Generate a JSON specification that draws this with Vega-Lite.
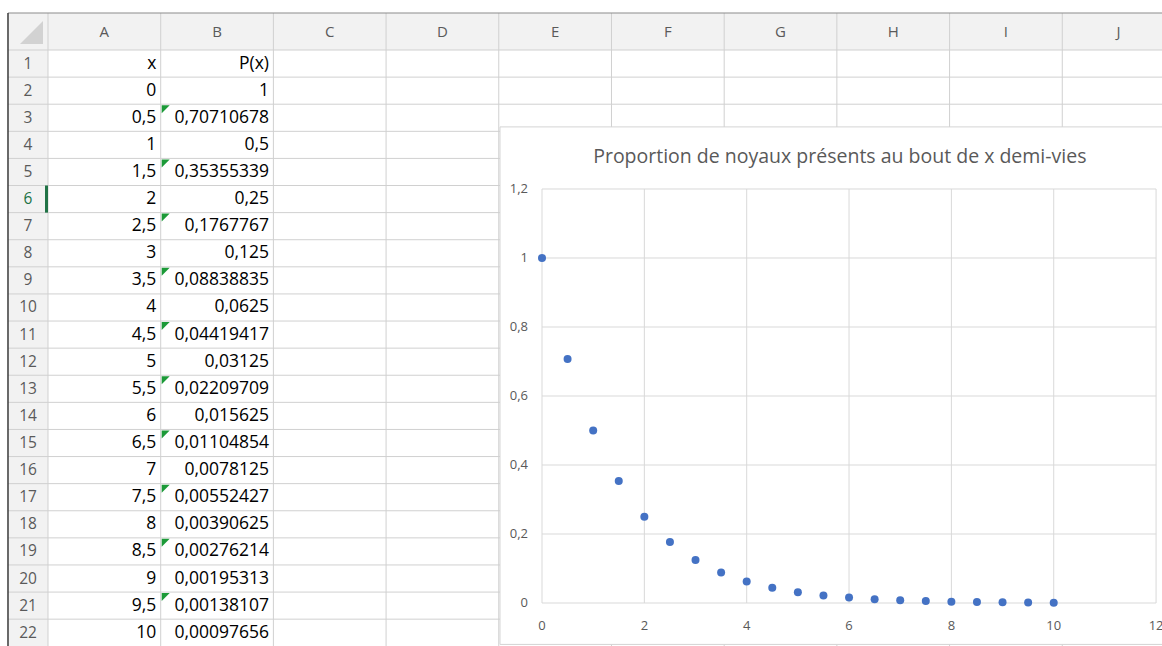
{
  "$schema": "https://vega.github.io/schema/vega-lite/v6.json",
  "width": 1162,
  "height": 646,
  "autosize": {"type": "none"},
  "padding": 0,
  "background": "white",
  "config": {"view": {"stroke": null}, "axis": {"disable": true}},
  "datasets": {
    "cells": [
      {"x": 0, "xs": "0", "p": 1, "ps": "1", "row": 2},
      {"x": 0.5, "xs": "0,5", "p": 0.70710678, "ps": "0,70710678", "row": 3},
      {"x": 1, "xs": "1", "p": 0.5, "ps": "0,5", "row": 4},
      {"x": 1.5, "xs": "1,5", "p": 0.35355339, "ps": "0,35355339", "row": 5},
      {"x": 2, "xs": "2", "p": 0.25, "ps": "0,25", "row": 6},
      {"x": 2.5, "xs": "2,5", "p": 0.1767767, "ps": "0,1767767", "row": 7},
      {"x": 3, "xs": "3", "p": 0.125, "ps": "0,125", "row": 8},
      {"x": 3.5, "xs": "3,5", "p": 0.08838835, "ps": "0,08838835", "row": 9},
      {"x": 4, "xs": "4", "p": 0.0625, "ps": "0,0625", "row": 10},
      {"x": 4.5, "xs": "4,5", "p": 0.04419417, "ps": "0,04419417", "row": 11},
      {"x": 5, "xs": "5", "p": 0.03125, "ps": "0,03125", "row": 12},
      {"x": 5.5, "xs": "5,5", "p": 0.02209709, "ps": "0,02209709", "row": 13},
      {"x": 6, "xs": "6", "p": 0.015625, "ps": "0,015625", "row": 14},
      {"x": 6.5, "xs": "6,5", "p": 0.01104854, "ps": "0,01104854", "row": 15},
      {"x": 7, "xs": "7", "p": 0.0078125, "ps": "0,0078125", "row": 16},
      {"x": 7.5, "xs": "7,5", "p": 0.00552427, "ps": "0,00552427", "row": 17},
      {"x": 8, "xs": "8", "p": 0.00390625, "ps": "0,00390625", "row": 18},
      {"x": 8.5, "xs": "8,5", "p": 0.00276214, "ps": "0,00276214", "row": 19},
      {"x": 9, "xs": "9", "p": 0.00195313, "ps": "0,00195313", "row": 20},
      {"x": 9.5, "xs": "9,5", "p": 0.00138107, "ps": "0,00138107", "row": 21},
      {"x": 10, "xs": "10", "p": 0.00097656, "ps": "0,00097656", "row": 22}
    ],
    "heads": [
      {"col": 1, "t": "x"},
      {"col": 2, "t": "P(x)"}
    ],
    "cols": [
      {"col": 1, "name": "A"}, {"col": 2, "name": "B"}, {"col": 3, "name": "C"},
      {"col": 4, "name": "D"}, {"col": 5, "name": "E"}, {"col": 6, "name": "F"},
      {"col": 7, "name": "G"}, {"col": 8, "name": "H"}, {"col": 9, "name": "I"},
      {"col": 10, "name": "J"}
    ],
    "rows": [
      {"row": 1}, {"row": 2}, {"row": 3}, {"row": 4}, {"row": 5}, {"row": 6},
      {"row": 7}, {"row": 8}, {"row": 9}, {"row": 10}, {"row": 11}, {"row": 12},
      {"row": 13}, {"row": 14}, {"row": 15}, {"row": 16}, {"row": 17}, {"row": 18},
      {"row": 19}, {"row": 20}, {"row": 21}, {"row": 22}
    ],
    "xticks": [
      {"v": 0, "l": "0"}, {"v": 2, "l": "2"}, {"v": 4, "l": "4"}, {"v": 6, "l": "6"},
      {"v": 8, "l": "8"}, {"v": 10, "l": "10"}, {"v": 12, "l": "12"}
    ],
    "yticks": [
      {"v": 0, "l": "0"}, {"v": 0.2, "l": "0,2"}, {"v": 0.4, "l": "0,4"},
      {"v": 0.6, "l": "0,6"}, {"v": 0.8, "l": "0,8"}, {"v": 1, "l": "1"}, {"v": 1.2, "l": "1,2"}
    ],
    "one": [{}]
  },
  "layer": [
    {
      "layer": [
        {
          "data": {"name": "one"},
          "mark": {"type": "rect", "fill": "#f2f2f2"},
          "encoding": {
            "x": {"datum": 0.145, "type": "quantitative", "scale": {"domain": [0.0741, 10.385], "nice": false, "zero": false}},
            "x2": {"datum": 10.385},
            "y": {"datum": -0.865, "type": "quantitative", "scale": {"domain": [-1.345, 22.49], "nice": false, "zero": false, "reverse": true}},
            "y2": {"datum": 0.5}
          }
        },
        {
          "data": {"name": "one"},
          "mark": {"type": "rect", "fill": "#f2f2f2"},
          "encoding": {
            "x": {"datum": 0.145, "type": "quantitative", "scale": {"domain": [0.0741, 10.385], "nice": false, "zero": false}},
            "x2": {"datum": 0.5},
            "y": {"datum": 0.5, "type": "quantitative", "scale": {"domain": [-1.345, 22.49], "nice": false, "zero": false, "reverse": true}},
            "y2": {"datum": 22.49}
          }
        },
        {
          "data": {"name": "cols"},
          "mark": {"type": "rule", "stroke": "#d0d0d0", "strokeWidth": 1, "xOffset": -56.35},
          "encoding": {
            "x": {"field": "col", "type": "quantitative", "scale": {"domain": [0.0741, 10.385], "nice": false, "zero": false}},
            "y": {"datum": -0.865, "type": "quantitative", "scale": {"domain": [-1.345, 22.49], "nice": false, "zero": false, "reverse": true}},
            "y2": {"datum": 22.49}
          }
        },
        {
          "data": {"name": "rows"},
          "mark": {"type": "rule", "stroke": "#d0d0d0", "strokeWidth": 1, "yOffset": -13.55},
          "encoding": {
            "y": {"field": "row", "type": "quantitative", "scale": {"domain": [-1.345, 22.49], "nice": false, "zero": false, "reverse": true}},
            "x": {"datum": 0.145, "type": "quantitative", "scale": {"domain": [0.0741, 10.385], "nice": false, "zero": false}},
            "x2": {"datum": 10.385}
          }
        },
        {
          "data": {"name": "cols"},
          "mark": {"type": "text", "font": "Open Sans", "fontSize": 15, "color": "#5a5a5a", "align": "center", "baseline": "middle"},
          "encoding": {
            "x": {"field": "col", "type": "quantitative", "scale": {"domain": [0.0741, 10.385], "nice": false, "zero": false}},
            "y": {"datum": -0.1825, "type": "quantitative", "scale": {"domain": [-1.345, 22.49], "nice": false, "zero": false, "reverse": true}},
            "text": {"field": "name"}
          }
        },
        {
          "data": {"name": "rows"},
          "mark": {"type": "text", "font": "Open Sans", "fontSize": 15.5, "align": "center", "baseline": "middle"},
          "encoding": {
            "x": {"datum": 0.3225, "type": "quantitative", "scale": {"domain": [0.0741, 10.385], "nice": false, "zero": false}},
            "y": {"field": "row", "type": "quantitative", "scale": {"domain": [-1.345, 22.49], "nice": false, "zero": false, "reverse": true}},
            "text": {"field": "row"},
            "color": {"condition": {"test": "datum.row === 6", "value": "#217346"}, "value": "#5a5a5a"}
          }
        },
        {
          "data": {"name": "one"},
          "mark": {"type": "rule", "stroke": "#217346", "strokeWidth": 3, "xOffset": -1.5},
          "encoding": {
            "x": {"datum": 0.5, "type": "quantitative", "scale": {"domain": [0.0741, 10.385], "nice": false, "zero": false}},
            "y": {"datum": 5.5, "type": "quantitative", "scale": {"domain": [-1.345, 22.49], "nice": false, "zero": false, "reverse": true}},
            "y2": {"datum": 6.5}
          }
        },
        {
          "data": {"name": "one"},
          "mark": {"type": "point", "filled": true, "shape": "M 1 -1 L 1 1 L -1 1 Z", "size": 529, "color": "#d2d2d2", "opacity": 1, "xOffset": 3.5, "yOffset": 1},
          "encoding": {
            "x": {"datum": 0.3225, "type": "quantitative", "scale": {"domain": [0.0741, 10.385], "nice": false, "zero": false}},
            "y": {"datum": -0.1825, "type": "quantitative", "scale": {"domain": [-1.345, 22.49], "nice": false, "zero": false, "reverse": true}}
          }
        },
        {
          "data": {"name": "heads"},
          "mark": {"type": "text", "font": "Open Sans", "fontSize": 17.5, "color": "#000000", "align": "right", "baseline": "middle", "dx": 52},
          "encoding": {
            "x": {"field": "col", "type": "quantitative", "scale": {"domain": [0.0741, 10.385], "nice": false, "zero": false}},
            "y": {"datum": 1, "type": "quantitative", "scale": {"domain": [-1.345, 22.49], "nice": false, "zero": false, "reverse": true}},
            "text": {"field": "t"}
          }
        },
        {
          "data": {"name": "cells"},
          "mark": {"type": "text", "font": "Open Sans", "fontSize": 17.5, "color": "#000000", "align": "right", "baseline": "middle", "dx": 52},
          "encoding": {
            "x": {"datum": 1, "type": "quantitative", "scale": {"domain": [0.0741, 10.385], "nice": false, "zero": false}},
            "y": {"field": "row", "type": "quantitative", "scale": {"domain": [-1.345, 22.49], "nice": false, "zero": false, "reverse": true}},
            "text": {"field": "xs"}
          }
        },
        {
          "data": {"name": "cells"},
          "mark": {"type": "text", "font": "Open Sans", "fontSize": 17.5, "color": "#000000", "align": "right", "baseline": "middle", "dx": 52},
          "encoding": {
            "x": {"datum": 2, "type": "quantitative", "scale": {"domain": [0.0741, 10.385], "nice": false, "zero": false}},
            "y": {"field": "row", "type": "quantitative", "scale": {"domain": [-1.345, 22.49], "nice": false, "zero": false, "reverse": true}},
            "text": {"field": "ps"}
          }
        },
        {
          "data": {"name": "cells"},
          "transform": [{"filter": "datum.row % 2 === 1"}],
          "mark": {"type": "point", "filled": true, "shape": "M -1 -1 L 1 -1 L -1 1 Z", "size": 64, "color": "#1c9a38", "opacity": 1, "xOffset": -51.35, "yOffset": -8.55},
          "encoding": {
            "x": {"datum": 2, "type": "quantitative", "scale": {"domain": [0.0741, 10.385], "nice": false, "zero": false}},
            "y": {"field": "row", "type": "quantitative", "scale": {"domain": [-1.345, 22.49], "nice": false, "zero": false, "reverse": true}}
          }
        },
        {
          "data": {"name": "one"},
          "mark": {"type": "rule", "stroke": "#8c8c8c", "strokeWidth": 1.2},
          "encoding": {
            "x": {"datum": 0.145, "type": "quantitative", "scale": {"domain": [0.0741, 10.385], "nice": false, "zero": false}},
            "x2": {"datum": 10.385},
            "y": {"datum": -0.865, "type": "quantitative", "scale": {"domain": [-1.345, 22.49], "nice": false, "zero": false, "reverse": true}}
          }
        },
        {
          "data": {"name": "one"},
          "mark": {"type": "rule", "stroke": "#3a3a3a", "strokeWidth": 1.5},
          "encoding": {
            "x": {"datum": 0.145, "type": "quantitative", "scale": {"domain": [0.0741, 10.385], "nice": false, "zero": false}},
            "y": {"datum": -0.865, "type": "quantitative", "scale": {"domain": [-1.345, 22.49], "nice": false, "zero": false, "reverse": true}},
            "y2": {"datum": 22.49}
          }
        }
      ]
    },
    {
      "layer": [
        {
          "data": {"name": "one"},
          "mark": {"type": "rect", "fill": "white", "stroke": "#d4d4d4", "strokeWidth": 1},
          "encoding": {
            "x": {"datum": -0.821, "type": "quantitative", "scale": {"domain": [-10.592, 12.116], "nice": false, "zero": false}},
            "x2": {"datum": 12.6},
            "y": {"datum": 1.38, "type": "quantitative", "scale": {"domain": [-0.1246, 1.7478], "nice": false, "zero": false}},
            "y2": {"datum": -0.12}
          }
        },
        {
          "data": {"name": "xticks"},
          "mark": {"type": "rule", "stroke": "#d9d9d9", "strokeWidth": 1},
          "encoding": {
            "x": {"field": "v", "type": "quantitative", "scale": {"domain": [-10.592, 12.116], "nice": false, "zero": false}},
            "y": {"datum": 0, "type": "quantitative", "scale": {"domain": [-0.1246, 1.7478], "nice": false, "zero": false}},
            "y2": {"datum": 1.2}
          }
        },
        {
          "data": {"name": "yticks"},
          "mark": {"type": "rule", "stroke": "#d9d9d9", "strokeWidth": 1},
          "encoding": {
            "y": {"field": "v", "type": "quantitative", "scale": {"domain": [-0.1246, 1.7478], "nice": false, "zero": false}},
            "x": {"datum": 0, "type": "quantitative", "scale": {"domain": [-10.592, 12.116], "nice": false, "zero": false}},
            "x2": {"datum": 12}
          }
        },
        {
          "data": {"name": "yticks"},
          "mark": {"type": "text", "font": "Open Sans", "fontSize": 13, "color": "#595959", "align": "right", "baseline": "middle", "dx": -14},
          "encoding": {
            "y": {"field": "v", "type": "quantitative", "scale": {"domain": [-0.1246, 1.7478], "nice": false, "zero": false}},
            "x": {"datum": 0, "type": "quantitative", "scale": {"domain": [-10.592, 12.116], "nice": false, "zero": false}},
            "text": {"field": "l"}
          }
        },
        {
          "data": {"name": "xticks"},
          "mark": {"type": "text", "font": "Open Sans", "fontSize": 13, "color": "#595959", "align": "center", "baseline": "middle", "dy": 23},
          "encoding": {
            "x": {"field": "v", "type": "quantitative", "scale": {"domain": [-10.592, 12.116], "nice": false, "zero": false}},
            "y": {"datum": 0, "type": "quantitative", "scale": {"domain": [-0.1246, 1.7478], "nice": false, "zero": false}},
            "text": {"field": "l"}
          }
        },
        {
          "data": {"name": "cells"},
          "mark": {"type": "point", "filled": true, "size": 64, "color": "#4472c4", "opacity": 1},
          "encoding": {
            "x": {"field": "x", "type": "quantitative", "scale": {"domain": [-10.592, 12.116], "nice": false, "zero": false}},
            "y": {"field": "p", "type": "quantitative", "scale": {"domain": [-0.1246, 1.7478], "nice": false, "zero": false}}
          }
        },
        {
          "data": {"name": "one"},
          "mark": {"type": "text", "font": "Open Sans", "fontSize": 19.5, "color": "#595959", "align": "center", "baseline": "middle", "text": "Proportion de noyaux présents au bout de x demi-vies"},
          "encoding": {
            "x": {"datum": 5.82, "type": "quantitative", "scale": {"domain": [-10.592, 12.116], "nice": false, "zero": false}},
            "y": {"datum": 1.293, "type": "quantitative", "scale": {"domain": [-0.1246, 1.7478], "nice": false, "zero": false}}
          }
        }
      ]
    }
  ],
  "resolve": {"scale": {"x": "independent", "y": "independent"}}
}
